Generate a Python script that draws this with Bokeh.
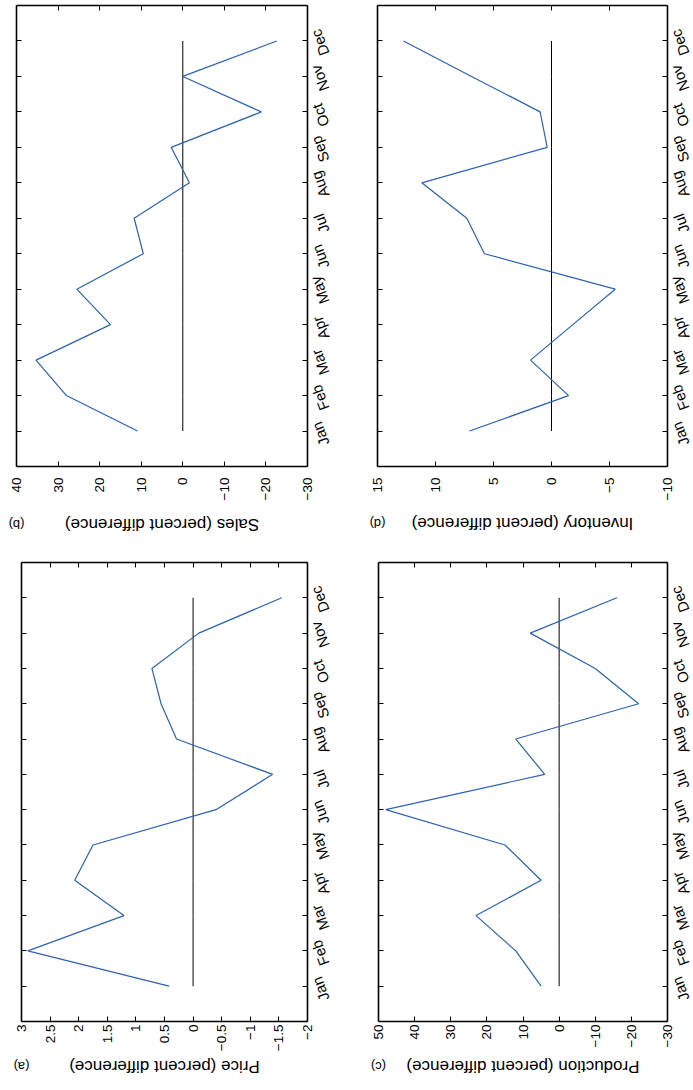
from math import pi
from bokeh.plotting import figure
from bokeh.models import Range1d, FixedTicker, LinearAxis
from bokeh.layouts import row, column
from bokeh.embed import file_html
from bokeh.resources import INLINE
from bokeh.core.properties import value

# ---------------- data ----------------
months = ["Jan", "Feb", "Mar", "Apr", "May", "Jun",
          "Jul", "Aug", "Sep", "Oct", "Nov", "Dec"]
month_idx = list(range(1, 13))

price = [0.42, 2.89, 1.21, 2.07, 1.75, -0.40, -1.39, 0.29, 0.56, 0.72, -0.10, -1.55]
sales = [10.9, 28.0, 35.3, 17.4, 25.5, 9.5, 11.7, -1.6, 2.8, -18.9, 0.0, -22.6]
production = [5, 12, 23, 5, 15, 48, 4, 12, -22, -10, 8, -16]
inventory = [7.07, -1.47, 1.81, -1.84, -5.49, 5.78, 7.30, 11.18, 0.37, 0.98, 6.9, 12.76]

price_ticks = [3, 2.5, 2, 1.5, 1, 0.5, 0, -0.5, -1, -1.5, -2]
sales_ticks = [40, 30, 20, 10, 0, -10, -20, -30]
production_ticks = [50, 40, 30, 20, 10, 0, -10, -20, -30]
inventory_ticks = [15, 10, 5, 0, -5, -10]

FONT = "Liberation Sans"
BLUE = "#2b62b5"


def fmt(t):
    return ("%g" % t).replace("-", "\u2212")


def make_panel(vals, ticks, letter, title, W, bl, box_w, bt, box_h, bb,
               tick_standoff, title_gap):
    x0, x1 = ticks[0], ticks[-1]
    upx = (x1 - x0) / box_w          # data units per pixel (signed)
    upy = 13.0 / box_h
    extra = W - bl - box_w
    p = figure(width=W, height=bt + box_h + bb,
               x_range=Range1d(x0 - bl * upx, x1 + extra * upx),
               y_range=Range1d(-bb * upy, 13 + bt * upy),
               output_backend="svg", toolbar_location=None,
               x_axis_location=None, y_axis_location=None,
               min_border_left=0, min_border_right=0,
               min_border_top=0, min_border_bottom=0)
    p.grid.visible = False
    p.outline_line_color = None
    p.background_fill_color = "white"
    p.border_fill_color = "white"

    lo, hi = min(x0, x1), max(x0, x1)
    common = dict(major_tick_in=5, major_tick_out=0,
                  minor_tick_line_color=None,
                  axis_line_color="black", axis_line_width=1.6,
                  major_tick_line_color="black", major_tick_line_width=1)
    hidden = dict(major_label_text_font_size="1px", major_label_text_color=None,
                  major_label_standoff=0)

    below = LinearAxis(ticker=FixedTicker(ticks=ticks), bounds=(lo, hi),
                       fixed_location=0,
                       major_label_orientation=pi / 2,
                       major_label_standoff=tick_standoff,
                       major_label_overrides={t: fmt(t) for t in ticks},
                       major_label_text_font=FONT,
                       major_label_text_font_size="13.5px",
                       major_label_text_color="black",
                       **common)
    above = LinearAxis(ticker=FixedTicker(ticks=ticks), bounds=(lo, hi),
                       fixed_location=13, **hidden, **common)
    left = LinearAxis(ticker=FixedTicker(ticks=month_idx), bounds=(0, 13),
                      fixed_location=x0, **hidden, **common)
    right_edge = LinearAxis(ticker=FixedTicker(ticks=month_idx), bounds=(0, 13),
                            fixed_location=x1, **hidden, **common)
    lab_ticks = [m - 0.4 for m in month_idx]
    month_axis = LinearAxis(ticker=FixedTicker(ticks=lab_ticks), fixed_location=x1,
                            major_label_overrides=dict(zip(lab_ticks, months)),
                            major_label_orientation=1.92,
                            major_label_standoff=11,
                            major_label_text_font=FONT,
                            major_label_text_font_size="15px",
                            major_label_text_color="black",
                            major_tick_line_color=None, axis_line_color=None,
                            minor_tick_line_color=None)
    p.add_layout(below, "below")
    p.add_layout(above, "above")
    p.add_layout(left, "left")
    p.add_layout(right_edge, "right")
    p.add_layout(month_axis, "right")

    p.line(x=[0] * len(month_idx), y=month_idx, line_color="black", line_width=1)
    p.line(x=vals, y=month_idx, line_color=BLUE, line_width=1.2)

    ty = -title_gap * upy
    p.text(x=[(x0 + x1) / 2], y=[ty], text=[title], angle=pi,
           text_align="center", text_baseline="middle",
           text_font=value(FONT), text_font_size="17px", text_color="black")
    p.text(x=[x0], y=[ty], text=[letter], angle=pi,
           text_align="center", text_baseline="middle",
           text_font=value(FONT), text_font_size="13px", text_color="black")
    return p


pb = make_panel(sales, sales_ticks, "(b)", "Sales (percent difference)",
                362, 16, 291, 5, 461, 82, 11, 58)
pd_ = make_panel(inventory, inventory_ticks, "(d)", "Inventory (percent difference)",
                 331, 15, 290, 5, 461, 82, 11, 57)
pa = make_panel(price, price_ticks, "(a)", "Price (percent difference)",
                362, 21, 286, 14, 459, 62, 3, 45)
pc = make_panel(production, production_ticks, "(c)", "Production (percent difference)",
                331, 16, 289, 14, 459, 62, 3, 45)

layout = column(row(pb, pd_), row(pa, pc))
open("out.html", "w").write(file_html(layout, INLINE))
